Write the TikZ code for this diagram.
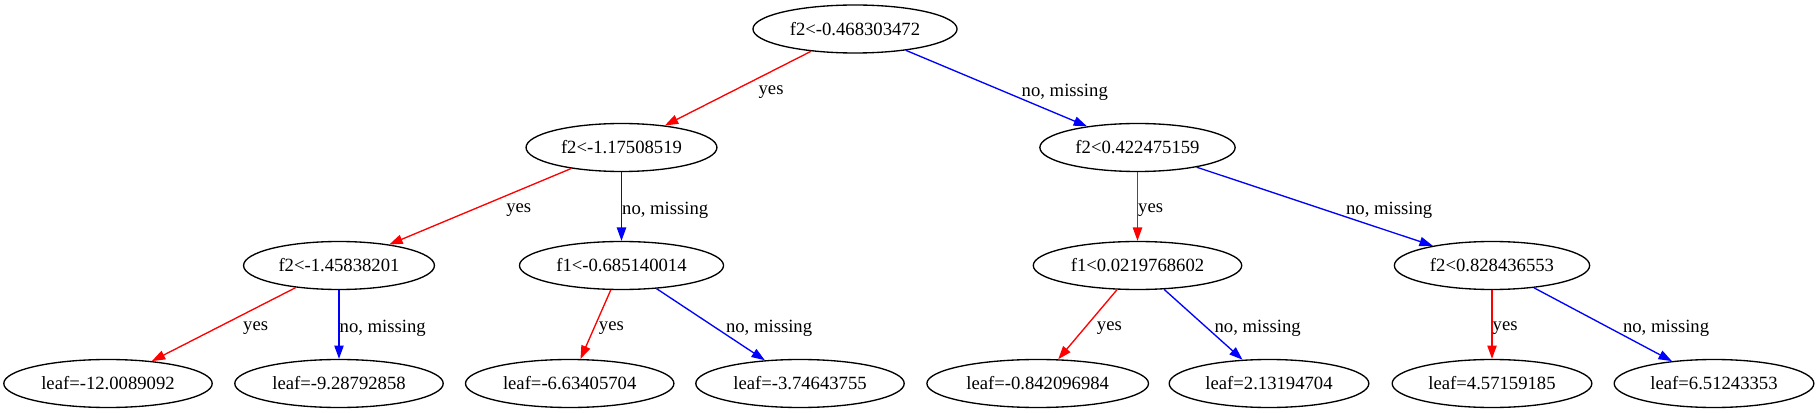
\documentclass[tikz,border=0pt]{standalone}
\usepackage{fontspec}
\setmainfont{Liberation Serif}
\usepackage{tikz}
\usepackage{xcolor}
\usetikzlibrary{shapes.geometric, arrows.meta, positioning}
\definecolor{TreeBlack}{RGB}{0, 0, 0}
\definecolor{TreeWhite}{RGB}{255, 255, 255}
\definecolor{TreeRed}{RGB}{255, 0, 0}
\definecolor{TreeBlue}{RGB}{0, 0, 255}

\begin{document}
\begin{tikzpicture}[
    x=0.75pt, y=-0.75pt,
    font=\fontsize{14pt}{16pt}\selectfont,
    % Styles - all boxes are plain ellipses
    split/.style={ellipse, line width=1pt, minimum height=36pt, inner xsep=5.25pt, inner ysep=3pt, align=center, draw=TreeBlack, fill=TreeWhite, text=TreeBlack},
    leaf/.style={split},
    yesarrow/.style={line width=1pt, -{Triangle[length=10pt, width=7pt]}, color=TreeRed},
    noarrow/.style={line width=1pt, -{Triangle[length=10pt, width=7pt]}, color=TreeBlue},
    edgelabel/.style={rectangle, draw=none, fill=none, inner sep=0pt, yshift=-3pt, text=TreeBlack}
]

% Canvas
\fill[TreeWhite] (0,0) rectangle (1820,413);
\useasboundingbox (0,0) rectangle (1820,413);

% ==========================================================================================
% SPLITS
% ==========================================================================================

% Root
\node[split] (root) at (855,29) {f2<-0.468303472};

% Level 1
\node[split] (l1_left) at (621.5,147.5) {f2<-1.17508519};
\node[split] (l1_right) at (1137.5,147.5) {f2<0.422475159};

% Level 2
\node[split] (l2_ll) at (339,265.5) {f2<-1.45838201};
\node[split] (l2_lr) at (621.5,265.5) {f1<-0.685140014};
\node[split] (l2_rl) at (1137.5,265.5) {f1<0.0219768602};
\node[split] (l2_rr) at (1492,265.5) {f2<0.828436553};

% ==========================================================================================
% LEAVES
% ==========================================================================================

\node[leaf] (leaf_1) at (108,383.5) {leaf=-12.0089092};
\node[leaf] (leaf_2) at (339,383.5) {leaf=-9.28792858};
\node[leaf] (leaf_3) at (569.7,383.5) {leaf=-6.63405704};
\node[leaf] (leaf_4) at (800,383.5) {leaf=-3.74643755};
\node[leaf] (leaf_5) at (1037.7,383.5) {leaf=-0.842096984};
\node[leaf] (leaf_6) at (1269,383.5) {leaf=2.13194704};
\node[leaf] (leaf_7) at (1492,383.5) {leaf=4.57159185};
\node[leaf] (leaf_8) at (1714,383.5) {leaf=6.51243353};

% ==========================================================================================
% EDGES (red = yes, blue = no, missing)
% ==========================================================================================

\draw[yesarrow] (root) -- node[midway, edgelabel, right=15pt] {yes} (l1_left);
\draw[noarrow] (root) -- node[midway, edgelabel, right=18.4pt] {no, missing} (l1_right);

\draw[yesarrow] (l1_left) -- node[midway, edgelabel, right=19pt] {yes} (l2_ll);
\draw[noarrow] (l1_left) -- node[midway, edgelabel, right=0pt] {no, missing} (l2_lr);
\draw[yesarrow] (l1_right) -- node[midway, edgelabel, right=0pt] {yes} (l2_rl);
\draw[noarrow] (l1_right) -- node[midway, edgelabel, right=23pt] {no, missing} (l2_rr);

\draw[yesarrow] (l2_ll) -- node[midway, edgelabel, right=14pt] {yes} (leaf_1);
\draw[noarrow] (l2_ll) -- node[midway, edgelabel, right=0pt] {no, missing} (leaf_2);
\draw[yesarrow] (l2_lr) -- node[midway, edgelabel, right=2pt] {yes} (leaf_3);
\draw[noarrow] (l2_lr) -- node[midway, edgelabel, right=11pt] {no, missing} (leaf_4);
\draw[yesarrow] (l2_rl) -- node[midway, edgelabel, right=6.5pt] {yes} (leaf_5);
\draw[noarrow] (l2_rl) -- node[midway, edgelabel, right=8pt] {no, missing} (leaf_6);
\draw[yesarrow] (l2_rr) -- node[midway, edgelabel, right=0pt] {yes} (leaf_7);
\draw[noarrow] (l2_rr) -- node[midway, edgelabel, right=14.6pt] {no, missing} (leaf_8);

\end{tikzpicture}
\end{document}
